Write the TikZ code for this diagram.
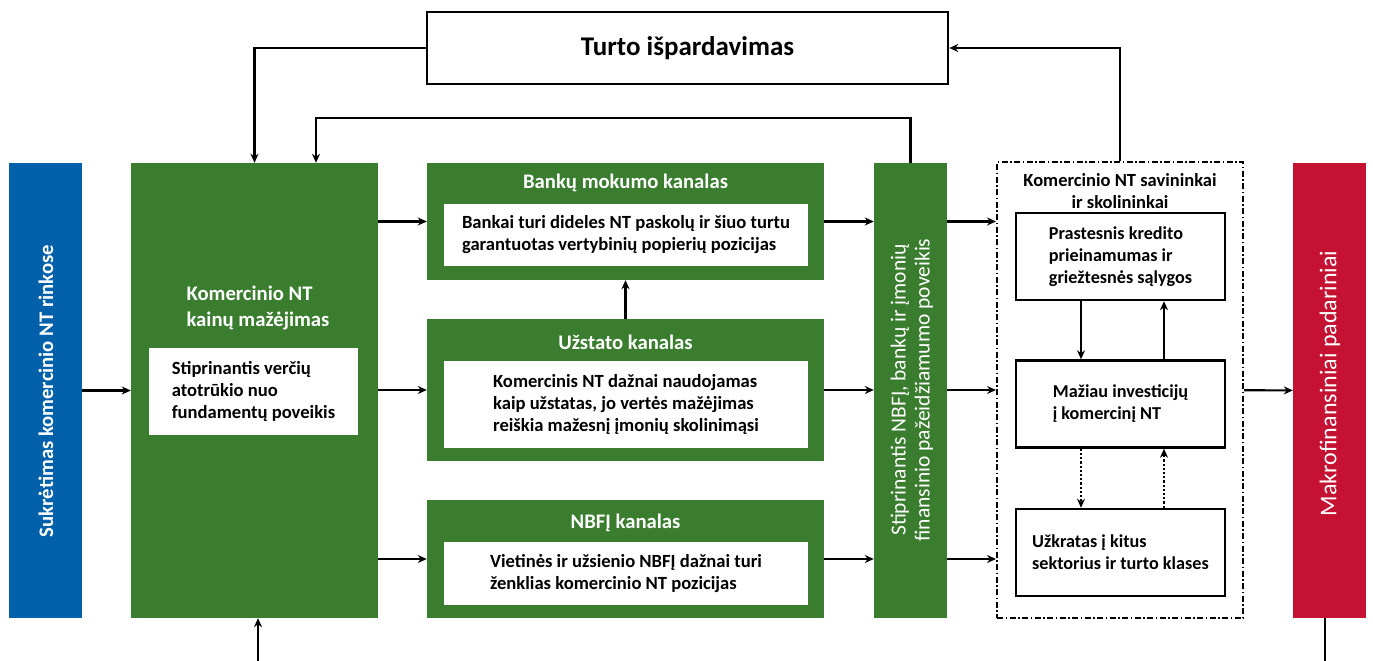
\documentclass[tikz,border=0pt]{standalone}
\usepackage{fontspec}
\setmainfont{Carlito}
\usetikzlibrary{arrows.meta, positioning, calc}

\definecolor{ntblue}{RGB}{0,96,170}
\definecolor{ntgreen}{RGB}{58,125,46}
\definecolor{ntred}{RGB}{197,17,50}

\begin{document}
\begin{tikzpicture}[x=1pt, y=-1pt]
	\tikzstyle{sidebar} = [rectangle, minimum width=73pt, minimum height=455pt, inner sep=0pt]
	\tikzstyle{greenbox} = [rectangle, fill=ntgreen, minimum width=397pt, inner sep=0pt]
	\tikzstyle{whitebox} = [rectangle, fill=white, minimum width=364pt, inner sep=0pt, text=black, font=\fontsize{18.6}{22}\selectfont\bfseries, align=left]
	\tikzstyle{linebox} = [rectangle, draw=black, line width=2.5pt, minimum width=209pt, minimum height=87pt, inner sep=0pt, font=\fontsize{18.2}{22}\selectfont\bfseries, align=left]
	\tikzstyle{boxtitle} = [text=white, font=\fontsize{20.7}{26}\selectfont\bfseries, align=center, inner sep=0pt]
	\tikzstyle{boxtext} = [text=black, font=\fontsize{18.5}{22}\selectfont\bfseries, align=left, inner sep=0pt]
	\tikzstyle{arrow} = [line width=2.2pt, -{Stealth[length=9pt, width=8pt]}]

	\useasboundingbox (0,0) rectangle (1373,661);

	% side bars
	\node (shock) [sidebar, fill=ntblue] at (45,390.5) {};
	\node (shocktext) [boxtitle, rotate=90] at (46,391) {Sukrėtimas komercinio NT rinkose};
	\node (amp) [sidebar, fill=ntgreen] at (910.5,390.5) {};
	\node (amptext) [boxtitle, rotate=90, font=\fontsize{21.5}{24}\selectfont] at (912,390) {Stiprinantis NBFĮ, bankų ir įmonių\\finansinio pažeidžiamumo poveikis};
	\node (macro) [sidebar, fill=ntred] at (1329.5,390.5) {};
	\node (macrotext) [boxtitle, rotate=90, font=\fontsize{24}{26}\selectfont] at (1330,383.5) {Makrofinansiniai padariniai};

	% price drop
	\node (drop) [rectangle, fill=ntgreen, minimum width=247pt, minimum height=455pt] at (254.5,390.5) {};
	\node (droptitle) [boxtitle, align=left] at (258,308) {Komercinio NT\\kainų mažėjimas};
	\node (dropin) [whitebox, minimum width=209pt, minimum height=87pt] at (253.5,391.5) {Stiprinantis verčių\\atotrūkio nuo\\fundamentų poveikis};

	% channels
	\node (bank) [greenbox, minimum height=117pt] at (625.5,221.5) {};
	\node (banktitle) [boxtitle] at (625.5,183) {Bankų mokumo kanalas};
	\node (bankin) [whitebox, minimum height=62pt] at (626,235) {Bankai turi dideles NT paskolų ir šiuo turtu\\garantuotas vertybinių popierių pozicijas};

	\node (coll) [greenbox, minimum height=142pt] at (625.5,390) {};
	\node (colltitle) [boxtitle] at (625.5,342) {Užstato kanalas};
	\node (collin) [whitebox, minimum height=87pt] at (626,404.5) {Komercinis NT dažnai naudojamas\\kaip užstatas, jo vertės mažėjimas\\reiškia mažesnį įmonių skolinimąsi};

	\node (nbfi) [greenbox, minimum height=118pt] at (625.5,559) {};
	\node (nbfititle) [boxtitle] at (625.5,523) {NBFĮ kanalas};
	\node (nbfiin) [whitebox, minimum height=63pt] at (626,573.5) {Vietinės ir užsienio NBFĮ dažnai turi\\ženklias komercinio NT pozicijas};

	% owners and borrowers
	\node (owners) [rectangle, draw=black, line width=2pt, dash pattern=on 6pt off 2.5pt on 1.5pt off 2.5pt, minimum width=246pt, minimum height=456pt] at (1120,390) {};
	\node (ownerstitle) [boxtext, align=center] at (1120,191) {Komercinio NT savininkai\\ir skolininkai};
	\node (credit) [linebox] at (1120.5,256.5) {Prastesnis kredito\\prieinamumas ir\\griežtesnės sąlygos};
	\node (invest) [linebox] at (1120.5,404) {Mažiau investicijų\\į komercinį NT};
	\node (spread) [linebox] at (1120.5,552.5) {Užkratas į kitus\\sektorius ir turto klases};

	% fire sales
	\node (sale) [rectangle, draw=black, line width=2.5pt, minimum width=521pt, minimum height=72pt, font=\fontsize{27}{30}\selectfont\bfseries] at (687.5,48) {Turto išpardavimas};

	\draw [arrow] (shock) -- (drop);
	\foreach \ch in {bank, coll, nbfi} {
		\draw [arrow] (drop.east |- \ch) -- (\ch.west);
		\draw [arrow] (\ch.east) -- (amp.west |- \ch);
		\draw [arrow] (amp.east |- \ch) -- (owners.west |- \ch);
	}
	\draw [arrow] (coll.north) -- (bank.south);
	\draw [arrow] (owners) -- (macro);

	\draw [arrow] ([xshift=-39.5pt]credit.south) -- ([xshift=-39.5pt]invest.north);
	\draw [arrow] ([xshift=43.5pt]invest.north) -- ([xshift=43.5pt]credit.south);
	\draw [arrow, dotted] ([xshift=-39.5pt]invest.south) -- ([xshift=-39.5pt]spread.north);
	\draw [arrow, dotted] ([xshift=43.5pt]spread.north) -- ([xshift=43.5pt]invest.south);

	\coordinate (loop) at (316,118);
	\draw [arrow] (sale.west) -| (drop.north);
	\draw [arrow] (amp.north) |- (loop) -- (loop |- drop.north);
	\draw [arrow] (owners.north) |- (sale.east);

	\coordinate (feed) at (258,661);
	\coordinate (out) at (1325,661);
	\draw [arrow] (feed) -- (feed |- drop.south);
	\draw [line width=2.2pt] (out |- macro.south) -- (out);
\end{tikzpicture}
\end{document}
